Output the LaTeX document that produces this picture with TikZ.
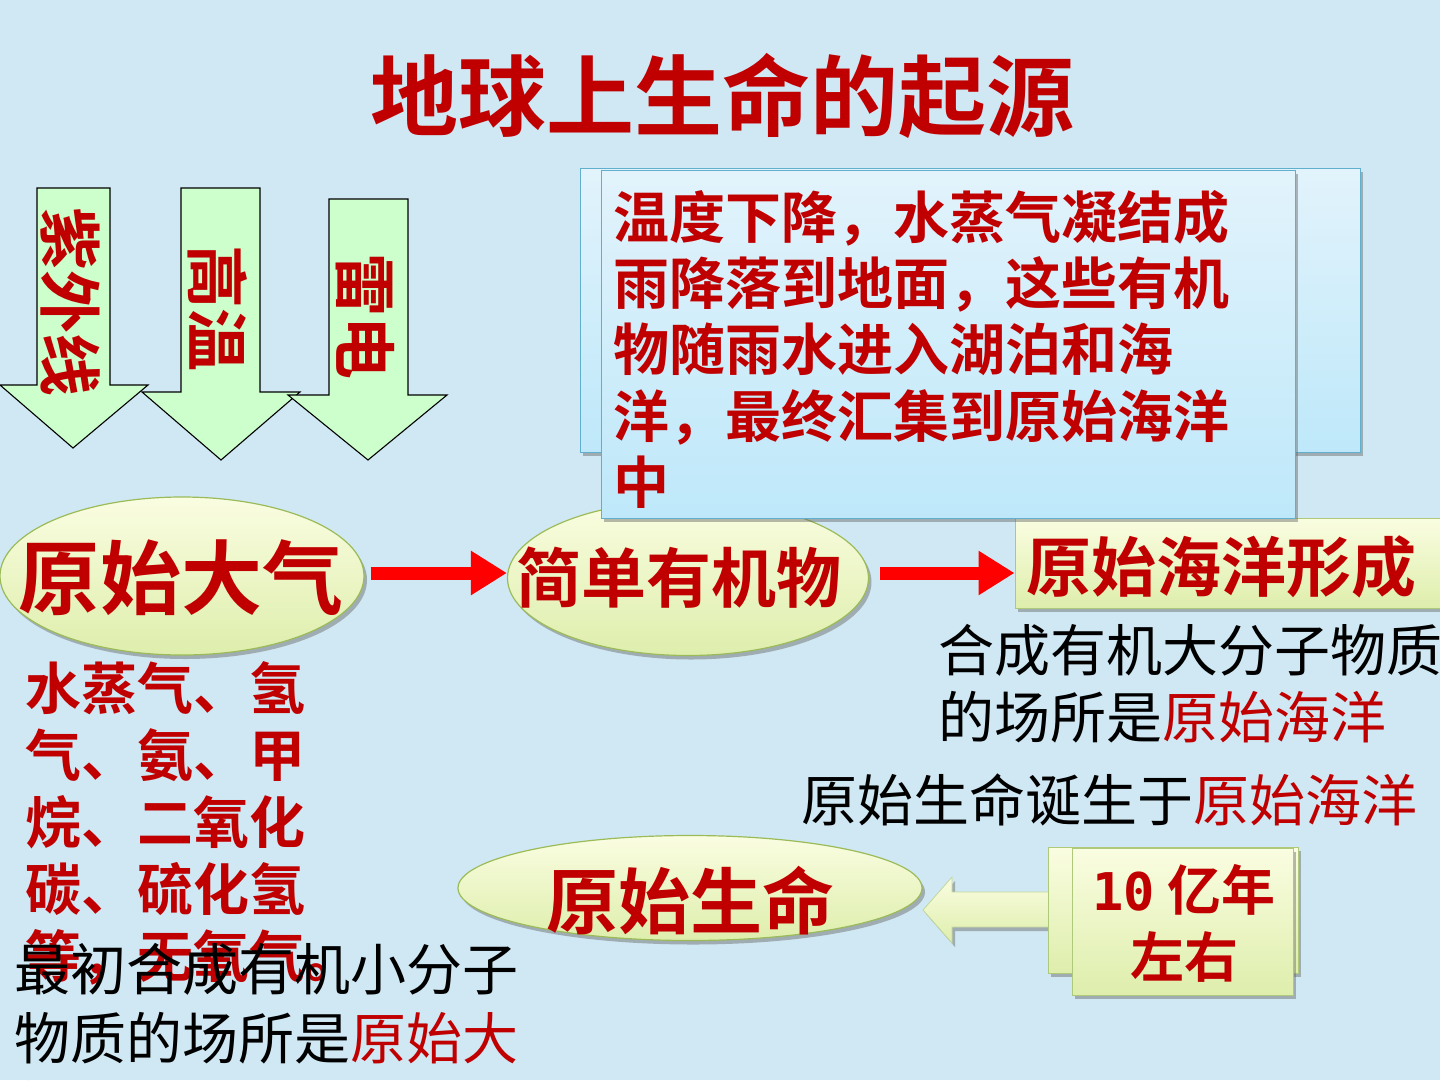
\documentclass[tikz,border=0pt]{standalone}
\usepackage{fontspec}
\newfontfamily\cjkb{Noto Sans CJK SC Bold}
\newfontfamily\cjkr{Noto Sans CJK SC}
\newfontfamily\monob{DejaVu Sans Mono Bold}
\usetikzlibrary{shapes.geometric,arrows.meta,shadows}
\definecolor{bgc}{RGB}{207,232,243}
\definecolor{tred}{RGB}{192,0,0}
\definecolor{ared}{RGB}{255,0,0}
\definecolor{mint}{RGB}{204,255,204}
\definecolor{olivec}{RGB}{155,187,89}
\definecolor{ytop}{RGB}{250,253,225}
\definecolor{ybot}{RGB}{222,238,172}
\definecolor{btop}{RGB}{226,243,251}
\definecolor{bbot}{RGB}{190,232,250}
\definecolor{blinec}{RGB}{95,175,205}
\tikzset{
  sh/.style={drop shadow={shadow xshift=3pt,shadow yshift=-4pt,opacity=.45,fill=black!60}},
  blockarr/.style={fill=mint,draw=black,line width=1.1pt,line join=miter},
  ellbox/.style={ellipse,inner sep=0pt,draw=olivec,line width=1.2pt,top color=ytop,bottom color=ybot,sh},
  greenbox/.style={rectangle,inner sep=0pt,draw=olivec!80,line width=1pt,top color=ytop,bottom color=ybot,sh},
  bluebox/.style={rectangle,inner sep=0pt,draw=blinec,line width=1pt,top color=btop,bottom color=bbot,sh},
  redarr/.style={draw=ared,line width=13pt,-{Triangle[length=36pt,width=42pt]}},
  rb/.style={inner sep=0pt,text=tred},
  bk/.style={inner sep=0pt,text=black,align=left},
}
\begin{document}
\begin{tikzpicture}[x=1pt,y=-1pt]
\useasboundingbox (0,0) rectangle (1440,1080);
\clip (0,0) rectangle (1440,1080);
\fill[bgc] (0,0) rectangle (1440,1080);

% title
\node[rb,font={\cjkb\fontsize{88}{96}\selectfont}] (title) at (722,96) {地球上生命的起源};

% down arrows
\draw[blockarr] (37,188) -- (110,188) -- (110,385) -- (148,385) -- (73,448) -- (0,385) -- (37,385) -- cycle;
\node[rb,rotate=-90,font={\cjkb\fontsize{63}{70}\selectfont}] (t1) at (71,302) {紫外线};
\draw[blockarr] (181,188) -- (260,188) -- (260,392) -- (300,392) -- (221,460) -- (142,392) -- (181,392) -- cycle;
\node[rb,rotate=-90,font={\cjkb\fontsize{63}{70}\selectfont}] (t2) at (218,308) {高温};
\draw[blockarr] (329,199) -- (408,199) -- (408,395) -- (447,395) -- (368,460) -- (288,395) -- (329,395) -- cycle;
\node[rb,rotate=-90,font={\cjkb\fontsize{63}{70}\selectfont}] (t3) at (365,316) {雷电};

% ellipses row
\node[ellbox,minimum width=364pt,minimum height=158pt] (e1) at (182,576) {};
\node[rb,font={\cjkb\fontsize{81}{90}\selectfont}] (e1t) at (181,578) {原始大气};
\node[ellbox,minimum width=361pt,minimum height=155pt] (e2) at (688,578) {};
\node[rb,font={\cjkb\fontsize{65}{72}\selectfont}] (e2t) at (679,578) {简单有机物};
\node[greenbox,minimum width=432pt,minimum height=90pt] (ob) at (1231,563) {};
\node[rb,font={\cjkb\fontsize{65}{72}\selectfont}] (obt) at (1221,567) {原始海洋形成};

\coordinate (ya) at (0,573);
\draw[redarr,shorten <=6pt] (e1.east |- ya) -- (e2.west |- ya);
\draw[redarr,shorten <=11pt] (e2.east |- ya) -- (ob.west |- ya);

% blue boxes
\node[bluebox,minimum width=780pt,minimum height=284pt] (bb) at (970,310) {};
\node[bluebox,minimum width=694pt,minimum height=348pt] (bf) at (948,344) {};
\node[rb,align=left,anchor=north west,font={\cjkb\fontsize{56}{66.3}\selectfont}] (bt) at (613,190)
  {温度下降，水蒸气凝结成\\雨降落到地面，这些有机\\物随雨水进入湖泊和海\\洋，最终汇集到原始海洋\\中};

% right texts
\node[bk,anchor=north west,font={\cjkr\fontsize{56}{67}\selectfont}] (r1) at (938,624)
  {合成有机大分子物质\\的场所是\textcolor{tred}{原始海洋}};
\node[bk,anchor=west,font={\cjkr\fontsize{56}{67}\selectfont}] (r2) at (801,800)
  {原始生命诞生于\textcolor{tred}{原始海洋}};

% gas list
\node[rb,align=left,anchor=north west,font={\cjkb\fontsize{56}{67}\selectfont}] (gas) at (25,661)
  {水蒸气、氢\\气、氨、甲\\烷、二氧化\\碳、硫化氢\\等，无氧气。};

% original life
\node[ellbox,minimum width=464pt,minimum height=105pt] (e3) at (690,888) {};
\node[rb,font={\cjkb\fontsize{72}{80}\selectfont}] (e3t) at (690,901) {原始生命};

% left block arrow
\draw[draw=olivec!60,line width=.8pt,top color=ytop,bottom color=ybot,sh]
  (1060,892) -- (952,892) -- (952,877) -- (923,910) -- (952,943) -- (952,927) -- (1060,927) -- cycle;

% 10 yi nian boxes
\node[greenbox,minimum width=250pt,minimum height=126pt] (yb) at (1173,910) {};
\node[greenbox,minimum width=221pt,minimum height=147pt] (yf) at (1182.5,921.5) {};
\node[rb,align=center,font={\cjkb\fontsize{54}{67}\selectfont}] (yt) at (1184,923)
  {{\monob\fontsize{52}{60}\selectfont 10} 亿年\\左右};

% bottom-left black text
\node[bk,anchor=north west,font={\cjkr\fontsize{56}{69}\selectfont}] (bl) at (14,943)
  {最初合成有机小分子\\物质的场所是\textcolor{tred}{原始大}\\\textcolor{tred}{气}};
\end{tikzpicture}
\end{document}
